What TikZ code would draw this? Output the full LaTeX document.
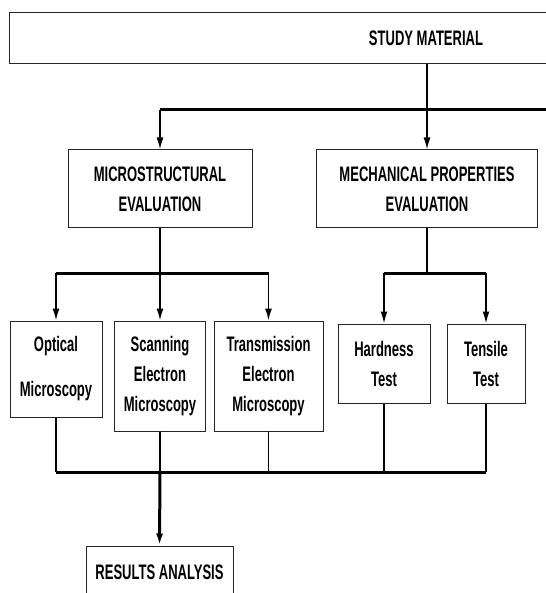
\documentclass[tikz,border=0pt]{standalone}
\usepackage{fontspec}
\setmainfont{Liberation Sans}[FakeStretch=0.62]
\usetikzlibrary{arrows.meta}

\begin{document}
\begin{tikzpicture}[
                x=1pt, y=-1pt,
                box/.style={
                    draw=black!85,
                    line width=1pt,
                    inner sep=0pt,
                    align=center,
                    font=\fontsize{21}{30}\selectfont\bfseries,
                },
                bar/.style={line width=3pt},
                link/.style={line width=1.5pt},
                >= {Latex[length=12pt, width=7pt]},
            ]
            \useasboundingbox (0,0) rectangle (545,593);
            \fill [white] (0,0) rectangle (545,593);

            % boxes
            \node [box, minimum width=834pt, minimum height=51pt] (study) at (426,38.5) {STUDY MATERIAL};
            \node [box, minimum width=184pt, minimum height=78pt] (micro) at (160,189) {MICROSTRUCTURAL\\EVALUATION};
            \node [box, minimum width=221pt, minimum height=78pt] (mech) at (427,189) {MECHANICAL PROPERTIES\\EVALUATION};
            \node [box, minimum width=92pt, minimum height=96pt] (optical) at (56,369) {Optical\\[15pt]Microscopy};
            \node [box, minimum width=91pt, minimum height=110pt] (sem) at (160,376) {Scanning\\Electron\\Microscopy};
            \node [box, minimum width=109pt, minimum height=110pt] (tem) at (268.5,376) {Transmission\\Electron\\Microscopy};
            \node [box, minimum width=92pt, minimum height=79pt] (hard) at (384,363.5) {Hardness\\Test};
            \node [box, minimum width=78pt, minimum height=79pt] (tens) at (486,363.5) {Tensile\\Test};
            \node [box, minimum width=147pt, minimum height=52pt] (results) at (159.5,572) {RESULTS ANALYSIS};

            % bars
            \coordinate (topbar) at (427,110);
            \coordinate (topend) at (560,110);
            \coordinate (midbar) at (0,273);
            \coordinate (basebar) at (0,472);

            \draw [link, ->] (study.south -| mech.north) -- (mech.north);
            \draw [bar] (micro.north |- topbar) -- (topend);
            \draw [link, ->] (micro.north |- topbar) -- (micro.north);

            \draw [link, ->] (micro.south) -- (sem.north);
            \draw [bar] (optical.north |- midbar) -- (tem.north |- midbar);
            \draw [link, ->] (optical.north |- midbar) -- (optical.north);
            \draw [link, ->] (tem.north |- midbar) -- (tem.north);

            \draw [link] (mech.south) -- (mech.south |- midbar);
            \draw [bar] (hard.north |- midbar) -- (tens.north |- midbar);
            \draw [link, ->] (hard.north |- midbar) -- (hard.north);
            \draw [link, ->] (tens.north |- midbar) -- (tens.north);

            \foreach \n in {optical, sem, tem, hard, tens}
                \draw [link] (\n.south) -- (\n.south |- basebar);
            \draw [bar] (optical.south |- basebar) -- (tens.south |- basebar);
            \draw [bar, ->] (sem.south |- basebar) -- (results.north);
        \end{tikzpicture}
\end{document}
